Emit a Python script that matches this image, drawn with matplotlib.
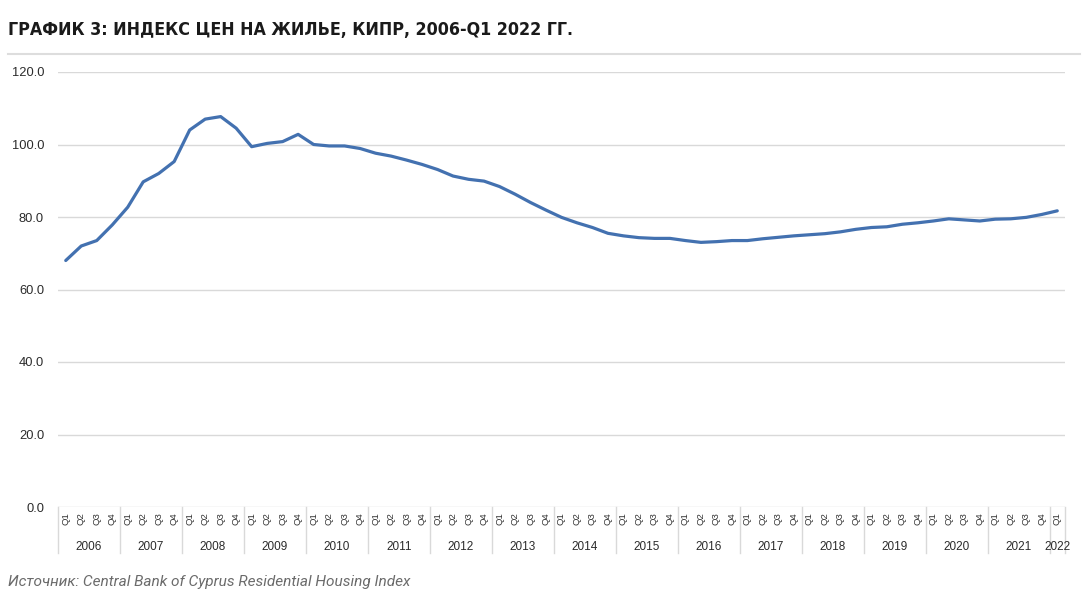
import matplotlib.pyplot as plt
from matplotlib.transforms import blended_transform_factory
from matplotlib.lines import Line2D

# Residential price index, quarterly 2006 Q1 .. 2022 Q1
years = [str(y) for y in range(2006, 2023)]
quarters = ["Q1", "Q2", "Q3", "Q4"]
index_values = [
    68.0, 72.0, 73.5, 77.8,      # 2006
    82.7, 89.7, 92.0, 95.3,      # 2007
    104.0, 107.0, 107.7, 104.5,  # 2008
    99.4, 100.3, 100.8, 102.8,   # 2009
    100.0, 99.6, 99.6, 98.9,     # 2010
    97.6, 96.8, 95.7, 94.5,      # 2011
    93.1, 91.3, 90.4, 89.9,      # 2012
    88.4, 86.3, 84.0, 81.9,      # 2013
    79.9, 78.4, 77.1, 75.5,      # 2014
    74.8, 74.3, 74.1, 74.1,      # 2015
    73.5, 73.0, 73.2, 73.5,      # 2016
    73.5, 74.0, 74.4, 74.8,      # 2017
    75.1, 75.4, 75.9, 76.6,      # 2018
    77.1, 77.3, 78.0, 78.4,      # 2019
    78.9, 79.5, 79.2, 78.9,      # 2020
    79.4, 79.5, 79.9, 80.7,      # 2021
    81.7,                        # 2022
]
yticks = [0, 20, 40, 60, 80, 100, 120]

title = "ГРАФИК 3: ИНДЕКС ЦЕН НА ЖИЛЬЕ, КИПР, 2006-Q1 2022 ГГ."
source = "Источник: Central Bank of Cyprus Residential Housing Index"

n = len(index_values)
q_labels = [quarters[i % 4] for i in range(n)]
x = list(range(n))

fig = plt.figure(figsize=(10.83, 6.09), dpi=100)
ax = fig.add_axes([58 / 1083, 1 - 507 / 609, (1065 - 58) / 1083, (507 - 72) / 609])

ax.plot(x, index_values, color="#4371b0", lw=2.3, solid_capstyle="round", zorder=3)

ax.set_xlim(-0.5, n - 0.5)
ax.set_ylim(0, 120)
ax.set_yticks(yticks)
ax.set_yticklabels([f"{v:.1f}" for v in yticks], fontsize=9.3, color="#2b2b2b",
                   family="Liberation Sans")
ax.grid(axis="y", color="#d9d9d9", lw=1.0)
ax.set_axisbelow(True)
for s in ax.spines.values():
    s.set_visible(False)
ax.tick_params(axis="y", length=0, pad=10)

# quarter labels
ax.set_xticks(x)
ax.set_xticklabels(q_labels, rotation=90, fontsize=6.8, color="#333333",
                   family="Liberation Sans")
ax.tick_params(axis="x", length=0, pad=4)

# year group labels and separators
trans = blended_transform_factory(ax.transData, ax.transAxes)
for k, yr in enumerate(years):
    start = 4 * k
    end = min(4 * k + 3, n - 1)
    ax.text((start + end) / 2, -0.092, yr, transform=trans, ha="center", va="center",
            fontsize=8.5, color="#2b2b2b", family="Liberation Sans")
bounds = [4 * k - 0.5 for k in range(len(years))] + [n - 0.5]
for b in bounds:
    ax.add_line(Line2D([b, b], [0, -0.106], transform=trans, color="#d9d9d9",
                       lw=1.0, clip_on=False))

# title, rule, source
fig.text(8 / 1083, 1 - 30 / 609, title, fontsize=12.8, fontweight="bold",
         family="DejaVu Sans", fontstretch="condensed", color="#1a1a1a",
         va="center", ha="left")
fig.add_artist(Line2D([8 / 1083, 1080 / 1083], [1 - 54 / 609, 1 - 54 / 609],
                      color="#dddddd", lw=1.5))
fig.text(8 / 1083, 1 - 582 / 609, source, fontsize=11.1, style="italic",
         family=["Roboto", "DejaVu Sans"], color="#6b6b6b", va="center", ha="left")

fig.savefig("out.png", dpi=100)
